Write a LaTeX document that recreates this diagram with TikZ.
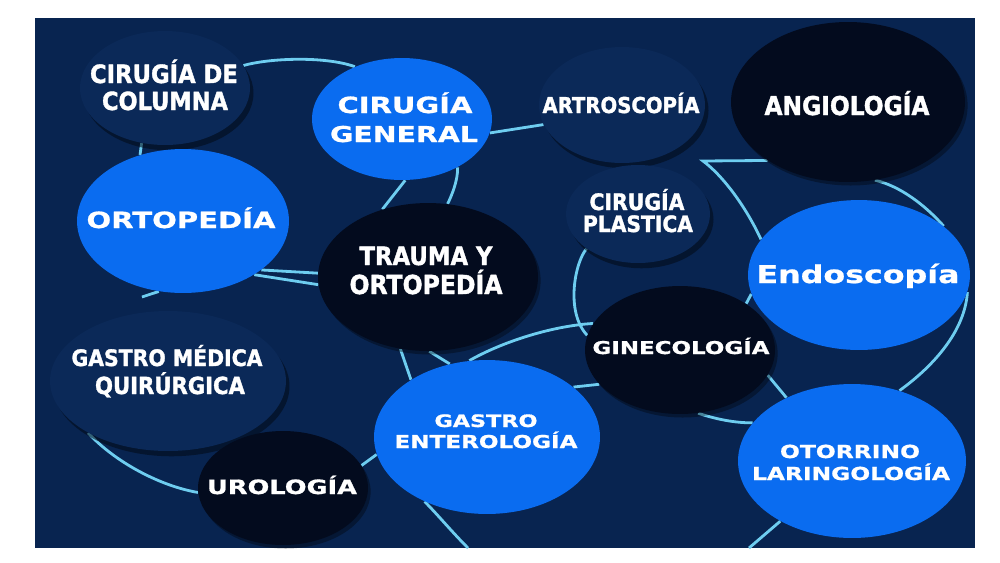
\documentclass[tikz,border=0pt]{standalone}
\usepackage{fontspec}
\usepackage{graphicx}
\usetikzlibrary{shapes.geometric,shadows}
\newfontfamily\heavyf{DejaVu Sans Condensed}[FakeBold=1.4]
\newfontfamily\widef{DejaVu Sans}[FakeStretch=1.3,FakeBold=0.9]
\definecolor{bgnavy}{RGB}{8,36,80}
\definecolor{nodenavy}{RGB}{11,41,88}
\definecolor{nodeblue}{RGB}{10,108,240}
\definecolor{nodedark}{RGB}{3,11,30}
\definecolor{linecyan}{RGB}{110,205,240}
\newcommand\fitw[2]{\resizebox{#1}{!}{#2}}
\pgfdeclarelayer{back}
\pgfdeclarelayer{lines}
\pgfsetlayers{back,lines,main}
\tikzset{
  ell/.style 2 args={ellipse, inner sep=0pt, minimum width=#1, minimum height=#2},
  bluenode/.style={fill=nodeblue},
  darknode/.style={fill=nodedark, drop shadow={shadow xshift=1.5pt, shadow yshift=-2pt, opacity=.35, fill=black}},
  navynode/.style={fill=nodenavy, drop shadow={shadow xshift=2pt, shadow yshift=-3pt, opacity=.55, fill=black!75!bgnavy}},
  conn/.style={draw=linecyan, line width=1.6pt},
  heavytxt/.style={anchor=base, inner sep=0pt, text=white, font=\heavyf\bfseries},
  widetxt/.style={anchor=base, inner sep=0pt, text=white, font=\widef\bfseries}
}
\begin{document}
\begin{tikzpicture}[x=0.02cm,y=-0.02cm]
\useasboundingbox (0,0) rectangle (1000,562);
\begin{pgfonlayer}{back}
  \fill[white] (0,0) rectangle (1000,562);
  \fill[bgnavy] (35,18) rectangle (975,548);
\end{pgfonlayer}

% ellipses: navy
\node[ell={3.40cm}{2.28cm}, navynode] (col)   at (165,88)  {};
\node[ell={3.32cm}{2.32cm}, navynode] (artro) at (622,105) {};
\node[ell={2.88cm}{1.96cm}, navynode] (plast) at (638,214) {};
\node[ell={4.72cm}{2.80cm}, navynode] (gmq)   at (168,381) {};
% dark
\node[ell={4.40cm}{2.96cm}, darknode] (trau)  at (428,277) {};
\node[ell={4.68cm}{3.20cm}, darknode] (angio) at (848,102) {};
\node[ell={3.80cm}{2.56cm}, darknode] (gine)  at (680,350) {};
\node[ell={3.40cm}{2.28cm}, darknode] (uro)   at (283,488) {};
% blue
\node[ell={3.60cm}{2.44cm}, bluenode] (gen)   at (402,119) {};
\node[ell={4.24cm}{2.88cm}, bluenode] (orto)  at (183,221) {};
\node[ell={4.44cm}{3.00cm}, bluenode] (endo)  at (859,275) {};
\node[ell={4.56cm}{3.08cm}, bluenode] (oto)   at (852,461) {};
\node[ell={4.52cm}{3.08cm}, bluenode] (gent)  at (487,437) {};

% free ends
\coordinate (e8)   at (142,297);
\coordinate (hook) at (703,161);
\coordinate (e22)  at (749,548);
\coordinate (e23)  at (468,548);

\begin{pgfonlayer}{lines}
  \draw[conn] (col.16) .. controls (270,58) and (325,56) .. (gen.132);
  \draw[conn] (col.247) -- (orto.123);
  \draw[conn] (gen.273) -- (trau.124);
  \draw[conn] (gen.319) .. controls (458,180) and (452,195) .. (trau.75);
  \draw[conn] (gen.351) -- (artro.194);
  \draw[conn] (orto.328) -- (trau.178);
  \draw[conn] (orto.323) -- (trau.184);
  \draw[conn] (orto.251) -- (e8);
  \draw[conn] (gmq.213) .. controls (115,462) and (160,486) .. (uro.183);
  \draw[conn] (uro.16) -- (gent.189);
  \draw[conn] (trau.249) -- (gent.143);
  \draw[conn] (trau.271) -- (gent.117);
  \draw[conn] (gent.103) .. controls (500,343) and (550,326) .. (gine.163);
  \draw[conn] (gent.30) -- (gine.203);
  \draw[conn] (plast.214) .. controls (575,262) and (565,312) .. (gine.171);
  \draw[conn] (angio.216) -- (hook) .. controls (722,175) and (745,205) .. (endo.160);
  \draw[conn] (angio.289) .. controls (900,186) and (925,205) .. (endo.30);
  \draw[conn] (endo.351) .. controls (965,330) and (935,365) .. (oto.56);
  \draw[conn] (gine.35) -- (endo.190);
  \draw[conn] (gine.344) -- (oto.136);
  \draw[conn] (gine.286) .. controls (715,419) and (735,423) .. (oto.159);
  \draw[conn] (oto.220) -- (e22);
  \draw[conn] (gent.226) .. controls (438,515) and (452,532) .. (e23);
\end{pgfonlayer}

% texts
\node[heavytxt] (colA)   at (164,83)  {\fitw{2.96cm}{CIRUGÍA DE}};
\node[heavytxt] (colB)   at (165,110) {\fitw{2.52cm}{COLUMNA}};
\node[widetxt]  (genA)   at (405,113) {\fitw{2.70cm}{CIRUGÍA}};
\node[widetxt]  (genB)   at (404,142) {\fitw{2.96cm}{GENERAL}};
\node[widetxt]  (ortoA)  at (181,228) {\fitw{3.78cm}{ORTOPEDÍA}};
\node[heavytxt] (trauA)  at (426,265) {\fitw{2.66cm}{TRAUMA Y}};
\node[heavytxt] (trauB)  at (426,294) {\fitw{3.06cm}{ORTOPEDÍA}};
\node[heavytxt] (artroA) at (621,113) {\fitw{3.14cm}{ARTROSCOPÍA}};
\node[heavytxt] (angioA) at (847,115) {\fitw{3.30cm}{ANGIOLOGÍA}};
\node[heavytxt] (plastA) at (637,210) {\fitw{1.90cm}{CIRUGÍA}};
\node[heavytxt] (plastB) at (638,232) {\fitw{2.20cm}{PLASTICA}};
\node[widetxt]  (endoA)  at (858,283) {\fitw{4.06cm}{Endoscopía}};
\node[widetxt]  (gineA)  at (681,354) {\fitw{3.54cm}{GINECOLOGÍA}};
\node[widetxt]  (otoA)   at (850,458) {\fitw{2.80cm}{OTORRINO}};
\node[widetxt]  (otoB)   at (851,480) {\fitw{3.96cm}{LARINGOLOGÍA}};
\node[widetxt]  (gentA)  at (486,427) {\fitw{2.06cm}{GASTRO}};
\node[widetxt]  (gentB)  at (486,448) {\fitw{3.66cm}{ENTEROLOGÍA}};
\node[widetxt]  (uroA)   at (282,494) {\fitw{3.00cm}{UROLOGÍA}};
\node[heavytxt] (gmqA)   at (167,366) {\fitw{3.82cm}{GASTRO MÉDICA}};
\node[heavytxt] (gmqB)   at (170,394) {\fitw{3.00cm}{QUIRÚRGICA}};
\end{tikzpicture}
\end{document}
